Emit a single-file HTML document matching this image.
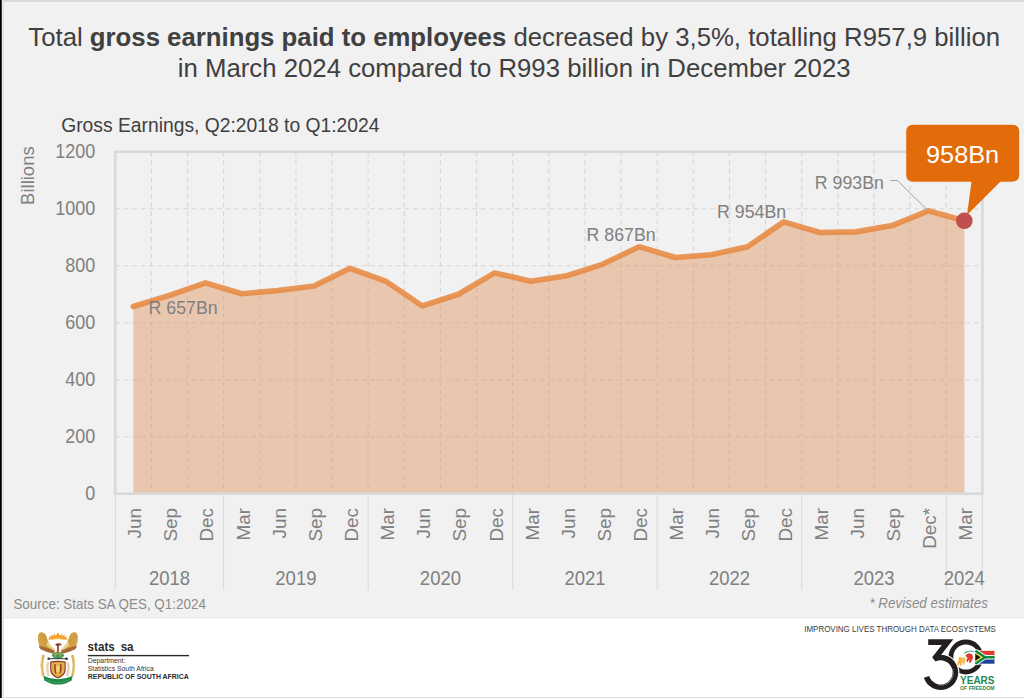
<!DOCTYPE html>
<html><head><meta charset="utf-8"><title>Gross earnings</title>
<style>
html,body{margin:0;padding:0;background:#f2f2f2;}
body{width:1024px;height:698px;overflow:hidden;position:relative;font-family:"Liberation Sans",Arial,sans-serif;}
svg{position:absolute;left:0;top:0;}
</style></head><body>
<svg width="1024" height="698" viewBox="0 0 1024 698" font-family='"Liberation Sans", Arial, sans-serif'>

<rect x="0" y="0" width="1024" height="698" fill="#f1f1f1"/>
<rect x="0" y="619" width="1024" height="79" fill="#ffffff"/>
<rect x="0" y="617" width="1024" height="1" fill="#e8e8e8"/>
<rect x="0" y="618" width="1024" height="1" fill="#f6f6f6"/>
<rect x="0" y="0" width="1024" height="2" fill="#d9d9d9"/>
<rect x="0" y="697" width="1024" height="1" fill="#dcdcdc"/>
<rect x="0" y="0" width="1" height="698" fill="#000"/>
<rect x="1" y="0" width="1" height="698" fill="#3c3c3c"/>
<rect x="2" y="0" width="1" height="698" fill="#ebebeb"/>
<rect x="3" y="0" width="1" height="698" fill="#dedede"/>
<text x="514.2" y="46" text-anchor="middle" font-size="25.76" fill="#404040">Total <tspan font-weight="bold">gross earnings paid to employees</tspan> decreased by 3,5%, totalling R957,9 billion</text>
<text x="514.2" y="76.6" text-anchor="middle" font-size="25.76" fill="#404040">in March 2024 compared to R993 billion in December 2023</text>
<text x="61.2" y="131.6" font-size="19.3" fill="#404040">Gross Earnings, Q2:2018 to Q1:2024</text>
<text transform="translate(33.9,175.6) rotate(-90)" text-anchor="middle" font-size="19.2" fill="#808080" textLength="58.6" lengthAdjust="spacingAndGlyphs">Billions</text>
<text x="95.2" y="500.0" text-anchor="end" font-size="20.2" fill="#808080" textLength="10.00" lengthAdjust="spacingAndGlyphs">0</text>
<text x="95.2" y="443.0" text-anchor="end" font-size="20.2" fill="#808080" textLength="30.00" lengthAdjust="spacingAndGlyphs">200</text>
<text x="95.2" y="386.0" text-anchor="end" font-size="20.2" fill="#808080" textLength="30.00" lengthAdjust="spacingAndGlyphs">400</text>
<text x="95.2" y="329.1" text-anchor="end" font-size="20.2" fill="#808080" textLength="30.00" lengthAdjust="spacingAndGlyphs">600</text>
<text x="95.2" y="272.1" text-anchor="end" font-size="20.2" fill="#808080" textLength="30.00" lengthAdjust="spacingAndGlyphs">800</text>
<text x="95.2" y="215.1" text-anchor="end" font-size="20.2" fill="#808080" textLength="40.00" lengthAdjust="spacingAndGlyphs">1000</text>
<text x="95.2" y="158.1" text-anchor="end" font-size="20.2" fill="#808080" textLength="40.00" lengthAdjust="spacingAndGlyphs">1200</text>
<g stroke="#d6d6d6" stroke-width="1.1" stroke-dasharray="4.7 3.8"><line x1="115.25" y1="436.72" x2="981.1" y2="436.72"/><line x1="115.25" y1="379.74" x2="981.1" y2="379.74"/><line x1="115.25" y1="322.76" x2="981.1" y2="322.76"/><line x1="115.25" y1="265.78" x2="981.1" y2="265.78"/><line x1="115.25" y1="208.80" x2="981.1" y2="208.80"/><line x1="151.38" y1="151.82" x2="151.38" y2="492.7"/><line x1="187.51" y1="151.82" x2="187.51" y2="492.7"/><line x1="223.64" y1="151.82" x2="223.64" y2="492.7"/><line x1="259.77" y1="151.82" x2="259.77" y2="492.7"/><line x1="295.90" y1="151.82" x2="295.90" y2="492.7"/><line x1="332.03" y1="151.82" x2="332.03" y2="492.7"/><line x1="368.16" y1="151.82" x2="368.16" y2="492.7"/><line x1="404.29" y1="151.82" x2="404.29" y2="492.7"/><line x1="440.42" y1="151.82" x2="440.42" y2="492.7"/><line x1="476.55" y1="151.82" x2="476.55" y2="492.7"/><line x1="512.68" y1="151.82" x2="512.68" y2="492.7"/><line x1="548.81" y1="151.82" x2="548.81" y2="492.7"/><line x1="584.94" y1="151.82" x2="584.94" y2="492.7"/><line x1="621.07" y1="151.82" x2="621.07" y2="492.7"/><line x1="657.20" y1="151.82" x2="657.20" y2="492.7"/><line x1="693.33" y1="151.82" x2="693.33" y2="492.7"/><line x1="729.46" y1="151.82" x2="729.46" y2="492.7"/><line x1="765.59" y1="151.82" x2="765.59" y2="492.7"/><line x1="801.72" y1="151.82" x2="801.72" y2="492.7"/><line x1="837.85" y1="151.82" x2="837.85" y2="492.7"/><line x1="873.98" y1="151.82" x2="873.98" y2="492.7"/><line x1="910.11" y1="151.82" x2="910.11" y2="492.7"/><line x1="946.24" y1="151.82" x2="946.24" y2="492.7"/></g>
<polygon points="133.31,493.10 133.31,306.52 169.44,295.41 205.57,282.87 241.71,293.70 277.84,290.57 313.97,286.01 350.10,268.34 386.23,281.45 422.36,305.95 458.49,294.27 494.62,272.90 530.75,281.16 566.88,275.75 603.01,264.07 639.13,246.69 675.26,257.52 711.40,254.67 747.53,246.69 783.66,221.91 819.79,232.45 855.92,231.88 892.05,225.61 928.18,210.79 964.31,220.77 964.31,493.10" fill="rgb(221,140,80)" fill-opacity="0.42"/>
<rect x="115.25" y="151.82" width="867.12" height="341.88" fill="none" stroke="#d9d9d9" stroke-width="2.6"/>
<polyline points="133.31,306.52 169.44,295.41 205.57,282.87 241.71,293.70 277.84,290.57 313.97,286.01 350.10,268.34 386.23,281.45 422.36,305.95 458.49,294.27 494.62,272.90 530.75,281.16 566.88,275.75 603.01,264.07 639.13,246.69 675.26,257.52 711.40,254.67 747.53,246.69 783.66,221.91 819.79,232.45 855.92,231.88 892.05,225.61 928.18,210.79 964.31,220.77" fill="none" stroke="rgb(232,135,62)" stroke-opacity="0.85" stroke-width="5.6" stroke-linejoin="round" stroke-linecap="round"/>
<rect x="114.75" y="493.7" width="1" height="96.5" fill="#d9d9d9"/>
<rect x="223.14" y="493.7" width="1" height="96.5" fill="#d9d9d9"/>
<rect x="367.66" y="493.7" width="1" height="96.5" fill="#d9d9d9"/>
<rect x="512.18" y="493.7" width="1" height="96.5" fill="#d9d9d9"/>
<rect x="656.70" y="493.7" width="1" height="96.5" fill="#d9d9d9"/>
<rect x="801.22" y="493.7" width="1" height="96.5" fill="#d9d9d9"/>
<rect x="945.74" y="493.7" width="1" height="96.5" fill="#d9d9d9"/>
<rect x="981.87" y="493.7" width="1" height="96.5" fill="#d9d9d9"/>
<text transform="translate(141.22,508) rotate(-90)" text-anchor="end" font-size="18.85" fill="#808080">Jun</text>
<text transform="translate(177.34,508) rotate(-90)" text-anchor="end" font-size="18.85" fill="#808080">Sep</text>
<text transform="translate(213.47,508) rotate(-90)" text-anchor="end" font-size="18.85" fill="#808080">Dec</text>
<text transform="translate(249.61,508) rotate(-90)" text-anchor="end" font-size="18.85" fill="#808080">Mar</text>
<text transform="translate(285.74,508) rotate(-90)" text-anchor="end" font-size="18.85" fill="#808080">Jun</text>
<text transform="translate(321.87,508) rotate(-90)" text-anchor="end" font-size="18.85" fill="#808080">Sep</text>
<text transform="translate(358.00,508) rotate(-90)" text-anchor="end" font-size="18.85" fill="#808080">Dec</text>
<text transform="translate(394.12,508) rotate(-90)" text-anchor="end" font-size="18.85" fill="#808080">Mar</text>
<text transform="translate(430.25,508) rotate(-90)" text-anchor="end" font-size="18.85" fill="#808080">Jun</text>
<text transform="translate(466.38,508) rotate(-90)" text-anchor="end" font-size="18.85" fill="#808080">Sep</text>
<text transform="translate(502.51,508) rotate(-90)" text-anchor="end" font-size="18.85" fill="#808080">Dec</text>
<text transform="translate(538.64,508) rotate(-90)" text-anchor="end" font-size="18.85" fill="#808080">Mar</text>
<text transform="translate(574.77,508) rotate(-90)" text-anchor="end" font-size="18.85" fill="#808080">Jun</text>
<text transform="translate(610.91,508) rotate(-90)" text-anchor="end" font-size="18.85" fill="#808080">Sep</text>
<text transform="translate(647.03,508) rotate(-90)" text-anchor="end" font-size="18.85" fill="#808080">Dec</text>
<text transform="translate(683.16,508) rotate(-90)" text-anchor="end" font-size="18.85" fill="#808080">Mar</text>
<text transform="translate(719.30,508) rotate(-90)" text-anchor="end" font-size="18.85" fill="#808080">Jun</text>
<text transform="translate(755.43,508) rotate(-90)" text-anchor="end" font-size="18.85" fill="#808080">Sep</text>
<text transform="translate(791.56,508) rotate(-90)" text-anchor="end" font-size="18.85" fill="#808080">Dec</text>
<text transform="translate(827.69,508) rotate(-90)" text-anchor="end" font-size="18.85" fill="#808080">Mar</text>
<text transform="translate(863.82,508) rotate(-90)" text-anchor="end" font-size="18.85" fill="#808080">Jun</text>
<text transform="translate(899.95,508) rotate(-90)" text-anchor="end" font-size="18.85" fill="#808080">Sep</text>
<text transform="translate(936.08,508) rotate(-90)" text-anchor="end" font-size="18.85" fill="#808080">Dec*</text>
<text transform="translate(972.21,508) rotate(-90)" text-anchor="end" font-size="18.85" fill="#808080">Mar</text>
<text x="169.44" y="585" text-anchor="middle" font-size="20.3" fill="#808080" textLength="41.10" lengthAdjust="spacingAndGlyphs">2018</text>
<text x="295.90" y="585" text-anchor="middle" font-size="20.3" fill="#808080" textLength="41.10" lengthAdjust="spacingAndGlyphs">2019</text>
<text x="440.42" y="585" text-anchor="middle" font-size="20.3" fill="#808080" textLength="41.10" lengthAdjust="spacingAndGlyphs">2020</text>
<text x="584.94" y="585" text-anchor="middle" font-size="20.3" fill="#808080" textLength="41.10" lengthAdjust="spacingAndGlyphs">2021</text>
<text x="729.46" y="585" text-anchor="middle" font-size="20.3" fill="#808080" textLength="41.10" lengthAdjust="spacingAndGlyphs">2022</text>
<text x="873.98" y="585" text-anchor="middle" font-size="20.3" fill="#808080" textLength="41.10" lengthAdjust="spacingAndGlyphs">2023</text>
<text x="964.31" y="585" text-anchor="middle" font-size="20.3" fill="#808080" textLength="41.10" lengthAdjust="spacingAndGlyphs">2024</text>
<text x="148.6" y="313.9" font-size="18.6" fill="#808080" textLength="69.13" lengthAdjust="spacingAndGlyphs">R 657Bn</text>
<text x="586.6" y="240.6" font-size="18.6" fill="#808080" textLength="69.13" lengthAdjust="spacingAndGlyphs">R 867Bn</text>
<text x="717.1" y="218.4" font-size="18.6" fill="#808080" textLength="69.13" lengthAdjust="spacingAndGlyphs">R 954Bn</text>
<text x="814.8" y="188.8" font-size="18.6" fill="#808080" textLength="69.13" lengthAdjust="spacingAndGlyphs">R 993Bn</text>
<polyline points="890.3,180.5 897.5,180.5 927.6,210.3" fill="none" stroke="#a6a6a6" stroke-width="1"/>
<path d="M913.2,124.8 H1012.2 Q1019.2,124.8 1019.2,131.8 V174.7 Q1019.2,181.7 1012.2,181.7 H1000.3 L967,215 L971.5,181.7 H913.2 Q906.2,181.7 906.2,174.7 V131.8 Q906.2,124.8 913.2,124.8 Z" fill="#e36c0a"/>
<text x="962.6" y="162.6" text-anchor="middle" font-size="24.8" fill="#ffffff" textLength="73.15" lengthAdjust="spacingAndGlyphs">958Bn</text>
<circle cx="964.31" cy="220.77" r="8.3" fill="#c0504d"/>
<text x="13.4" y="609.4" font-size="14.2" fill="#8c8c8c" textLength="192.45" lengthAdjust="spacingAndGlyphs">Source: Stats SA QES, Q1:2024</text>
<text x="988" y="608.4" text-anchor="end" font-size="14.2" font-style="italic" fill="#8c8c8c" textLength="118.58" lengthAdjust="spacingAndGlyphs">* Revised estimates</text>
<g id="coa">
<path d="M48.2,639.7 L49.6,637.4 L48.9,636.2 L51.3,637.1 L51.2,634.6 L53.4,636.3 L54.2,633.6 L55.8,635.9 L57.9,632.4 L60,635.9 L61.6,633.6 L62.4,636.3 L64.6,634.6 L64.5,637.1 L66.9,636.2 L66.2,637.4 L67.7,639.7 Q57.9,638.2 48.2,639.7 Z" fill="#f49a25"/>
<path d="M51.5,639.5 Q57.9,634.6 64.3,639.5 Q57.9,638.6 51.5,639.5 Z" fill="#fbb83c"/>
<g>
<path d="M41.6,631.9 Q44.8,632.4 46.2,635.6 Q47.6,640.5 49.2,643.4 Q52.5,647.5 54.6,650.6 L52.8,651.6 Q46,648.4 39.6,646.3 Q37.4,641 37.9,636 Q38.6,632.4 41.6,631.9 Z" fill="#d4a34c"/>
<path d="M39.6,634.6 L44.2,645.6 M41.4,633.2 L46.4,645.6 M43.6,633 L48.2,645.4" stroke="#c08a36" stroke-width="0.55" fill="none"/>
<path d="M47.4,641.5 Q51.8,646.5 55.4,650.4 L54.6,652.2 Q50.6,648.2 46.6,645.2 Z" fill="#ecd08c"/>
<path d="M38.9,645.6 Q46.5,647.6 54.6,650.4 L54.4,653.9 Q47.2,652.8 41,649.6 Q39.1,648.2 38.9,645.6 Z" fill="#a46a38"/>
</g>
<g transform="translate(115.8,0) scale(-1,1)">
<path d="M41.6,631.9 Q44.8,632.4 46.2,635.6 Q47.6,640.5 49.2,643.4 Q52.5,647.5 54.6,650.6 L52.8,651.6 Q46,648.4 39.6,646.3 Q37.4,641 37.9,636 Q38.6,632.4 41.6,631.9 Z" fill="#d4a34c"/>
<path d="M39.6,634.6 L44.2,645.6 M41.4,633.2 L46.4,645.6 M43.6,633 L48.2,645.4" stroke="#c08a36" stroke-width="0.55" fill="none"/>
<path d="M47.4,641.5 Q51.8,646.5 55.4,650.4 L54.6,652.2 Q50.6,648.2 46.6,645.2 Z" fill="#ecd08c"/>
<path d="M38.9,645.6 Q46.5,647.6 54.6,650.4 L54.4,653.9 Q47.2,652.8 41,649.6 Q39.1,648.2 38.9,645.6 Z" fill="#a46a38"/>
</g>
<path d="M55,644.7 Q57.2,642.7 60.6,643.6 Q62.2,644.2 61.2,645.4 Q59,645 58.8,646 L58.9,650.2 L57.2,650.2 L57.1,646 Q56,645.6 55,644.7 Z" fill="#8c3b28"/>
<circle cx="57.9" cy="651" r="1.3" fill="#e5512e"/>
<path d="M51.8,655.6 Q53,652.2 57.9,651.8 Q62.8,652.2 64.2,655.6 Q62,658.8 57.9,659 Q53.8,658.8 51.8,655.6 Z" fill="#3f9a55"/>
<path d="M53.6,654.6 Q57.9,652.6 62.2,654.6" fill="none" stroke="#d6c04a" stroke-width="0.8"/>
<circle cx="55.4" cy="656" r="0.7" fill="#e0b84a"/><circle cx="60.4" cy="656" r="0.7" fill="#e0b84a"/><circle cx="57.9" cy="655.6" r="0.7" fill="#d9503a"/>
<rect x="48.4" y="658.2" width="18.4" height="1" fill="#3a3a3a"/>
<circle cx="48.6" cy="658.7" r="1.2" fill="#3a3a3a"/><circle cx="66.6" cy="658.7" r="1.3" fill="#2c2c2c"/>
<path d="M43.6,655 Q40.2,665 43.4,675.8" fill="none" stroke="#d9b35a" stroke-width="2.6"/>
<path d="M72.2,655 Q75.6,665 72.4,675.8" fill="none" stroke="#d9b35a" stroke-width="2.6"/>
<path d="M41.9,657 Q39.6,666 42.2,674.6" fill="none" stroke="#f1e0b0" stroke-width="0.8"/>
<path d="M73.9,657 Q76.2,666 73.6,674.6" fill="none" stroke="#f1e0b0" stroke-width="0.8"/>
<path d="M48.2,662.3 Q46,669 48.8,676.2" fill="none" stroke="#ddc7a4" stroke-width="2.6" stroke-dasharray="1.3 0.5"/>
<path d="M67.6,662.3 Q69.8,669 67,676.2" fill="none" stroke="#ddc7a4" stroke-width="2.6" stroke-dasharray="1.3 0.5"/>
<path d="M50.2,661.4 Q57.9,660.2 65.7,661.4 L65.7,670 Q65.3,675.6 57.9,678.5 Q50.5,675.6 50.2,670 Z" fill="#8e3522"/>
<path d="M51.3,662.4 Q57.9,661.4 64.6,662.4 L64.6,669.8 Q64.2,674.6 57.9,677.2 Q51.6,674.6 51.3,669.8 Z" fill="#e2b04a"/>
<path d="M54.3,664 Q53.4,669 55.4,674 L56.4,673.6 Q55.4,669 55.6,664 Z M61.5,664 Q62.4,669 60.4,674 L59.4,673.6 Q60.4,669 60.2,664 Z" fill="#9c3a1e"/>
<ellipse cx="57.9" cy="668.8" rx="1.7" ry="3.8" fill="#f3d27a"/>
<path d="M43.3,675.7 Q57.9,683 72.7,675.7 L71.6,680.4 Q57.9,688.8 44.4,680.4 Z" fill="#1e8a47"/>
<path d="M46.4,679.6 Q57.9,685.6 69.6,679.6" fill="none" stroke="#cfe6d4" stroke-width="0.5" stroke-dasharray="1.2 1" opacity="0.8"/>
</g>
<text x="87.6" y="650.7" font-size="13" font-weight="bold" fill="#2b2b2b" textLength="46" lengthAdjust="spacingAndGlyphs">stats<tspan dx="3"> </tspan>sa</text>
<rect x="87.8" y="654.9" width="101.3" height="1.4" fill="#2b2b2b"/>
<text x="87.8" y="663.4" font-size="6.8" fill="#333333" textLength="37.6" lengthAdjust="spacingAndGlyphs">Department:</text>
<text x="87.8" y="671.2" font-size="6.8" fill="#333333" textLength="66" lengthAdjust="spacingAndGlyphs">Statistics South Africa</text>
<text x="87.8" y="678.6" font-size="6.95" font-weight="bold" fill="#2b2b2b" textLength="100.9" lengthAdjust="spacingAndGlyphs">REPUBLIC OF SOUTH AFRICA</text>
<text x="804.3" y="632.1" font-size="8.8" fill="#3c3c3c" textLength="191.6" lengthAdjust="spacingAndGlyphs">IMPROVING LIVES THROUGH DATA ECOSYSTEMS</text>
<g id="thirty">
<circle cx="965.9" cy="657" r="15" fill="none" stroke="#231f20" stroke-width="4.8"/>
<rect x="974.6" y="650.3" width="21" height="14.2" fill="#ffffff"/>
<path d="M928.2,642.15 H947.6 L934.35,658.99 A14.8,14.8 0 1 1 926.52,676.97" fill="none" stroke="#ffffff" stroke-width="8" stroke-linejoin="miter"/>
<path d="M928.2,642.15 H947.6 L934.35,658.99 A14.8,14.8 0 1 1 926.52,676.97" fill="none" stroke="#231f20" stroke-width="5.6" stroke-linejoin="miter"/>
<path d="M952.5,669 A12,12 0 0 1 938,684.6" fill="none" stroke="#ffffff" stroke-width="0.9" stroke-dasharray="1.1 0.7" opacity="0.75"/>
<path d="M958.2,658.5 q1.5,-2.2 3.4,-1 q1.2,1.5 0.5,4 l-0.8,4.2 l-1.6,-0.2 l0.2,-3 l-1.6,3 l-1.6,-0.6 l1.8,-4.2 z" fill="#f4b43c"/>
<path d="M961.8,658.6 l2.4,-1.8 l1.4,2 l-1.2,6 l-1.5,-0.2 z" fill="#f6c04e"/>
<path d="M965.2,655.6 l3.2,-2.4 l3.6,0.8 l1.2,3.4 l-2.4,5.4 l-1.8,-0.4 l0.6,-3.6 l-1.8,3.2 l-1.6,-0.8 l1.2,-3.4 z" fill="#e2392f"/>
<path d="M964.2,653.2 q4,-2.8 9.6,-1.6" fill="none" stroke="#3aa06a" stroke-width="1.1"/>
<path d="M968.5,651.6 q3,-1.2 6,0" fill="none" stroke="#8fc8e8" stroke-width="0.8"/>
<g transform="translate(975.4,650.8) scale(2.12,2.15)">
<rect x="0" y="0" width="9" height="3" fill="#e03c31"/>
<rect x="0" y="3" width="9" height="3" fill="#1f3f99"/>
<path d="M0,0 L4.5,3 L0,6 M4.5,3 H9" fill="none" stroke="#fff" stroke-width="2"/>
<path d="M0,0 L4.5,3 L0,6 M4.5,3 H9" fill="none" stroke="#0a8a3f" stroke-width="1.2"/>
<path d="M0,0.95 L3.1,3 L0,5.05 Z" fill="#f6b40e"/>
<path d="M0,1.45 L2.35,3 L0,4.55 Z" fill="#111"/>
</g>
<text x="960.1" y="684.3" font-size="10.2" font-weight="bold" fill="#1f8a4f" textLength="34.4" lengthAdjust="spacingAndGlyphs">YEARS</text>
<text x="960.1" y="690.4" font-size="5.3" font-weight="bold" fill="#1f8a4f" textLength="34.4" lengthAdjust="spacingAndGlyphs">OF FREEDOM</text>
</g>
</svg>
</body></html>
